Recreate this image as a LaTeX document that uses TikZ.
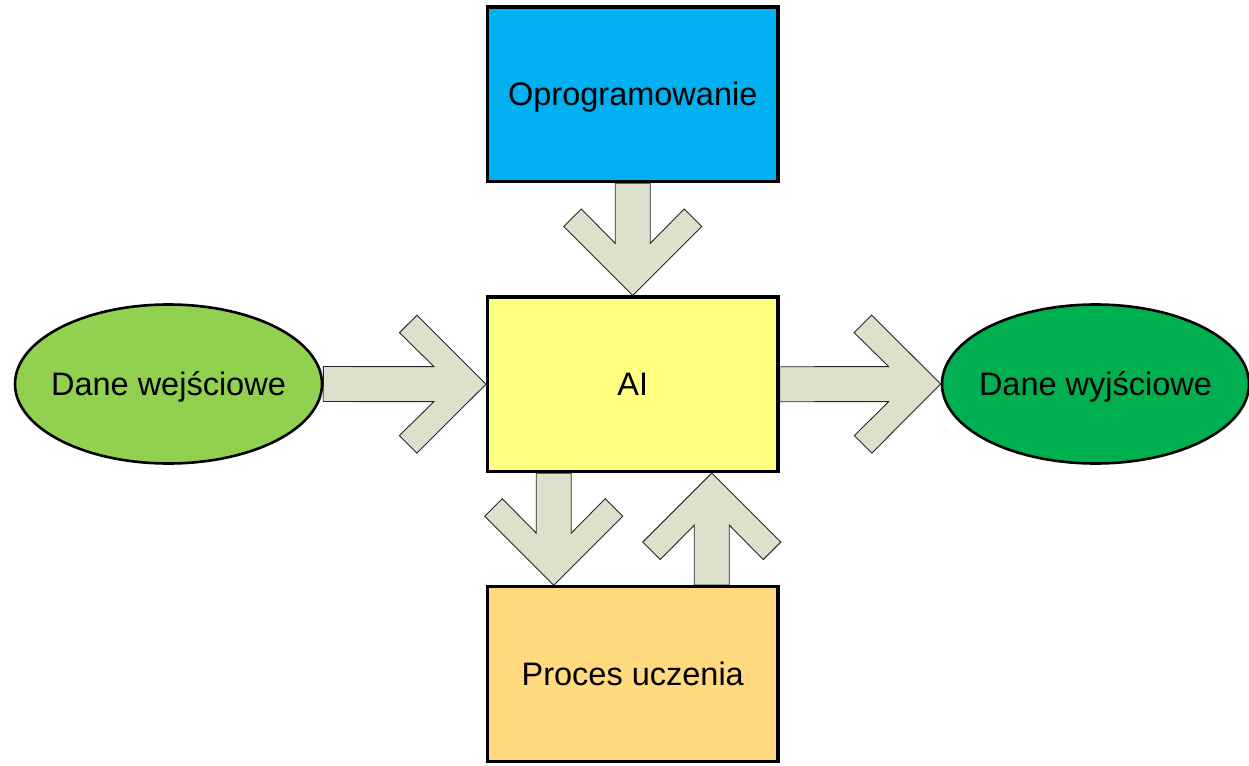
\documentclass[tikz,border=0pt]{standalone}
\usepackage{fontspec}
\setmainfont{Liberation Sans}
\usetikzlibrary{shapes.geometric,backgrounds,calc}

\definecolor{softblue}{HTML}{00B0F0}
\definecolor{aiyellow}{HTML}{FFFF80}
\definecolor{learnorange}{HTML}{FFDA7E}
\definecolor{inputgreen}{HTML}{92D050}
\definecolor{outputgreen}{HTML}{00B050}
\definecolor{arrowfill}{HTML}{DDE0CA}

\tikzset{
  block/.style={rectangle, draw=black, line width=3.2pt, inner sep=0pt,
    minimum width=290.5pt, minimum height=174.5pt},
  blob/.style={ellipse, draw=black, line width=2.6pt, inner xsep=-14pt,
    inner ysep=0pt, minimum width=307pt, minimum height=159pt},
  label/.style={font=\fontsize{32.5}{38}\selectfont, text=black,
    text height=23.3pt, text depth=0pt},
  chev/.style={fill=arrowfill, draw=black!85, line width=0.9pt, line join=miter},
}

% Wide block arrow with a chevron head, from #1 (tail) to #2 (tip)
\newcommand\chevron[2]{%
  \draw[chev] (#2)
    -- ($(#2)!69pt!(#1)!69pt!90:(#1)$)
    -- ($(#2)!86.5pt!(#1)!51.5pt!90:(#1)$)
    -- ($(#2)!52pt!(#1)!17.5pt!90:(#1)$)
    -- ($(#1)!17.5pt!-90:(#2)$)
    -- ($(#1)!17.5pt!90:(#2)$)
    -- ($(#2)!52pt!(#1)!17.5pt!-90:(#1)$)
    -- ($(#2)!86.5pt!(#1)!51.5pt!-90:(#1)$)
    -- ($(#2)!69pt!(#1)!69pt!-90:(#1)$)
    -- cycle;}

\begin{document}
\begin{tikzpicture}[x=1pt, y=-1pt]
  \useasboundingbox (0,0) rectangle (1249,765);

  % main blocks
  \node[block, fill=softblue, label] (soft) at (632.75,94.25) {Oprogramowanie};
  \node[block, fill=aiyellow, label] (ai) at (632.75,384.25) {AI};
  \node[block, fill=learnorange, label] (learn) at (632.75,674) {Proces uczenia};

  % data ellipses
  \node[blob, fill=inputgreen, label] (inL) at (168.5,384) {Dane wejściowe};
  \node[blob, fill=outputgreen, label] (outR) at (1095.5,384) {Dane wyjściowe};

  % attachment points of the learning loop
  \coordinate (aiOut) at ($(ai.south)+(-79,0)$);
  \coordinate (learnIn) at ($(learn.north)+(-79,0)$);
  \coordinate (learnOut) at ($(learn.north)+(79,0)$);
  \coordinate (aiIn) at ($(ai.south)+(79,0)$);

  % block arrows behind the shapes
  \begin{pgfonlayer}{background}
    \chevron{soft.south}{ai.north}
    \chevron{inL.east}{ai.west}
    \chevron{ai.east}{outR.west}
    \chevron{aiOut}{learnIn}
    \chevron{learnOut}{aiIn}
  \end{pgfonlayer}
\end{tikzpicture}
\end{document}
